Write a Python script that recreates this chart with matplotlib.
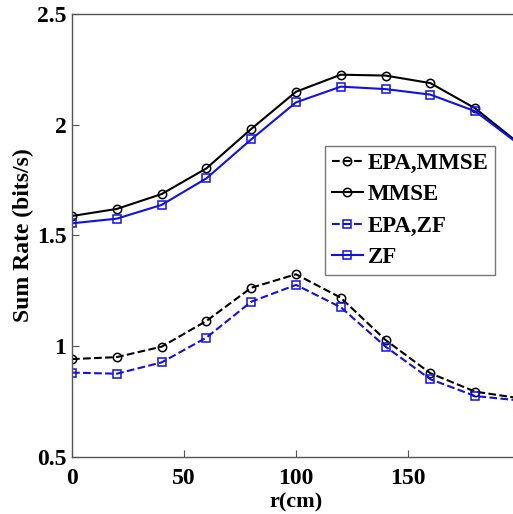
import numpy as np
import matplotlib.pyplot as plt

r = [0, 20, 40, 60, 80, 100, 120, 140, 160, 180, 200]
epa_mmse = [0.942, 0.951, 0.998, 1.114, 1.264, 1.325, 1.219, 1.028, 0.878, 0.795, 0.765]
mmse = [1.588, 1.620, 1.687, 1.803, 1.981, 2.149, 2.226, 2.222, 2.188, 2.074, 1.912]
epa_zf = [0.881, 0.876, 0.927, 1.039, 1.201, 1.277, 1.176, 0.998, 0.851, 0.775, 0.755]
zf = [1.555, 1.576, 1.638, 1.758, 1.934, 2.101, 2.172, 2.161, 2.136, 2.061, 1.908]
xtick_labels = ['0', '50', '100', '150', '']
ytick_labels = ['0.5', '1', '1.5', '2', '2.5']

plt.rcParams['font.family'] = ['Liberation Serif', 'DejaVu Serif']
plt.rcParams['font.weight'] = 'bold'

W, H = 513, 514
fig = plt.figure(figsize=(W / 100, H / 100), dpi=100)
# axes run past the right edge of the picture, as in the cropped original
ax = fig.add_axes([72 / W, 57 / H, 448 / W, 443 / H])

mk = dict(markersize=6, markerfacecolor='none', markeredgewidth=1.1, linewidth=1.5)
ax.plot(r, epa_mmse, '--', color='black', marker='o', label='EPA,MMSE', **mk)
ax.plot(r, mmse, '-', color='black', marker='o', label='MMSE', **mk)
ax.plot(r, epa_zf, '--', color='#1010e8', marker='s', label='EPA,ZF', **mk)
ax.plot(r, zf, '-', color='#1010e8', marker='s', label='ZF', **mk)

ax.set_xlim(0, 200)
ax.set_ylim(0.5, 2.5)
ax.set_xticks([0, 50, 100, 150, 200])
ax.set_xticklabels(xtick_labels)
ax.set_yticks([0.5, 1, 1.5, 2, 2.5])
ax.set_yticklabels(ytick_labels)
ax.tick_params(direction='in', length=5, labelsize=17, color='#555555')
ax.tick_params(axis='x', pad=8)
ax.tick_params(axis='y', pad=4)
for s in ax.spines.values():
    s.set_color('#555555')
    s.set_linewidth(1.0)

# x label sits under the 100 tick (centre of the visible part)
ax.set_xlabel('r(cm)', fontsize=16, fontweight='bold', va='center')
ax.xaxis.set_label_coords(0.5, -45 / 443)
ax.set_ylabel('Sum Rate (bits/s)', fontsize=17, fontweight='bold', labelpad=2)

leg = ax.legend(loc='upper left', bbox_to_anchor=(325 / W, 1 - 146 / H),
                bbox_transform=fig.transFigure, fontsize=16.5, frameon=True,
                fancybox=False, edgecolor='#555555', handlelength=1.35,
                handletextpad=0.2, borderpad=0.3, labelspacing=0.45, borderaxespad=0)
leg.get_frame().set_linewidth(1.0)

fig.savefig('out.png', dpi=100)
